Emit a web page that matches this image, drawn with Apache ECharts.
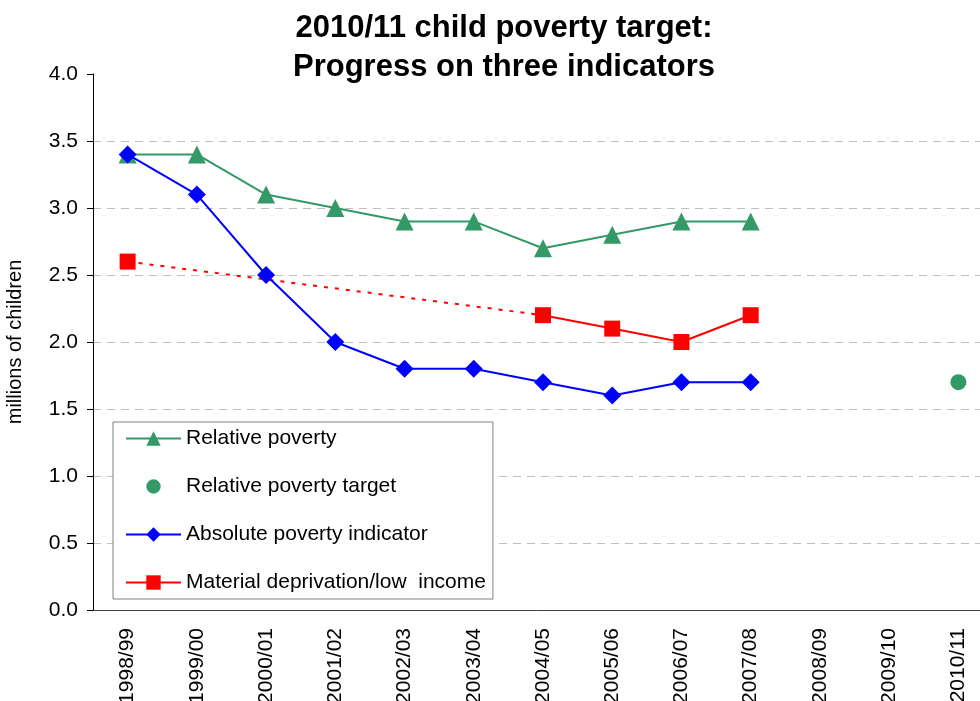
<!DOCTYPE html>
<html>
<head>
<meta charset="utf-8">
<script src="https://cdn.jsdelivr.net/npm/echarts@6/dist/echarts.min.js"></script>
<style>
  html, body { margin: 0; padding: 0; background: #ffffff; }
  #chart { width: 980px; height: 701px; }
</style>
</head>
<body>
<div id="chart"></div>
<script>
// Financial years on the category axis
const years = ['1998/99', '1999/00', '2000/01', '2001/02', '2002/03', '2003/04', '2004/05',
               '2005/06', '2006/07', '2007/08', '2008/09', '2009/10', '2010/11'];

// Children in poverty, millions
const relativePoverty     = [3.4, 3.4, 3.1, 3.0, 2.9, 2.9, 2.7, 2.8, 2.9, 2.9, null, null, null];
const relativeTarget      = [null, null, null, null, null, null, null, null, null, null, null, null, 1.7];
const absolutePoverty     = [3.4, 3.1, 2.5, 2.0, 1.8, 1.8, 1.7, 1.6, 1.7, 1.7, null, null, null];
const materialDeprivation = [2.6, null, null, null, null, null, 2.2, 2.1, 2.0, 2.2, null, null, null];

// Value axis range
const yMin = 0, yMax = 4, yStep = 0.5;

const seriesNames = ['Relative poverty', 'Relative poverty target',
                     'Absolute poverty indicator', 'Material deprivation/low  income'];

const GREEN = '#339966', BLUE = '#0000ff', RED = '#ff0000';
const FONT = 'Liberation Sans, Arial, sans-serif';

// Dotted link across the years without a material deprivation figure
const deprivationGap = materialDeprivation.map((v, i) => (i <= 6 ? v : null));

// Hide the split line at the top of the axis
const splitCount = Math.round((yMax - yMin) / yStep) + 1;
const splitColors = Array.from({ length: splitCount }, (_, i) =>
  i === splitCount - 1 ? 'rgba(0,0,0,0)' : '#c0c0c0');

const chart = echarts.init(document.getElementById('chart'), null, { renderer: 'canvas' });

chart.setOption({
  backgroundColor: '#ffffff',
  animation: false,
  textStyle: { fontFamily: FONT },
  title: {
    text: '2010/11 child poverty target:\nProgress on three indicators',
    left: 504,
    top: 9,
    padding: 0,
    textAlign: 'center',
    textStyle: {
      fontFamily: FONT,
      fontSize: 31,
      fontWeight: 'bold',
      color: '#000000',
      lineHeight: 39
    }
  },
  grid: {
    left: 93,
    width: 900,
    top: 74,
    bottom: 91,
    containLabel: false,
    outerBoundsMode: 'none'
  },
  legend: {
    orient: 'vertical',
    left: 113,
    top: 422,
    padding: [6, 7, 6, 12],
    itemWidth: 55,
    itemHeight: 18,
    itemGap: 27,
    backgroundColor: '#ffffff',
    borderColor: '#808080',
    borderWidth: 1,
    z: 10,
    data: [
      { name: seriesNames[0] },
      { name: seriesNames[1], lineStyle: { opacity: 0 } },
      { name: seriesNames[2] },
      { name: seriesNames[3] }
    ],
    textStyle: {
      fontFamily: FONT,
      fontSize: 21,
      lineHeight: 18,
      color: '#000000'
    }
  },
  xAxis: {
    type: 'category',
    data: years,
    boundaryGap: true,
    axisLine: { lineStyle: { color: '#404040', width: 1 } },
    axisTick: { show: false },
    axisLabel: {
      rotate: 90,
      margin: 18,
      interval: 0,
      fontSize: 21,
      color: '#000000',
      fontFamily: FONT
    },
    splitLine: { show: false }
  },
  yAxis: {
    type: 'value',
    min: yMin,
    max: yMax,
    interval: yStep,
    name: 'millions of children',
    nameLocation: 'middle',
    nameGap: 68,
    nameTextStyle: {
      fontSize: 20,
      color: '#000000',
      fontFamily: FONT
    },
    axisLine: { show: true, lineStyle: { color: '#000000', width: 1 } },
    axisTick: { show: true, inside: false, length: 6, lineStyle: { color: '#000000' } },
    axisLabel: {
      margin: 15,
      fontSize: 21,
      color: '#000000',
      fontFamily: FONT,
      formatter: v => v.toFixed(1)
    },
    splitLine: {
      show: true,
      lineStyle: { color: splitColors, type: [8, 6], width: 1 }
    }
  },
  series: [
    {
      name: seriesNames[0],
      type: 'line',
      data: relativePoverty,
      symbol: 'triangle',
      symbolSize: 18,
      itemStyle: { color: GREEN },
      lineStyle: { color: GREEN, width: 2 },
      z: 2
    },
    {
      name: seriesNames[1],
      type: 'line',
      data: relativeTarget,
      symbol: 'circle',
      symbolSize: 16,
      itemStyle: { color: GREEN },
      lineStyle: { color: GREEN, width: 0, opacity: 0 },
      z: 2
    },
    {
      name: seriesNames[3] + ' link',
      type: 'line',
      data: deprivationGap,
      connectNulls: true,
      showSymbol: false,
      symbol: 'none',
      lineStyle: { color: RED, width: 2, type: [4, 7] },
      silent: true,
      z: 3
    },
    {
      name: seriesNames[3],
      type: 'line',
      data: materialDeprivation,
      connectNulls: false,
      symbol: 'rect',
      symbolSize: 16,
      itemStyle: { color: RED },
      lineStyle: { color: RED, width: 2 },
      z: 3
    },
    {
      name: seriesNames[2],
      type: 'line',
      data: absolutePoverty,
      symbol: 'diamond',
      symbolSize: 18,
      itemStyle: { color: BLUE },
      lineStyle: { color: BLUE, width: 2 },
      z: 4
    }
  ]
});
</script>
</body>
</html>
